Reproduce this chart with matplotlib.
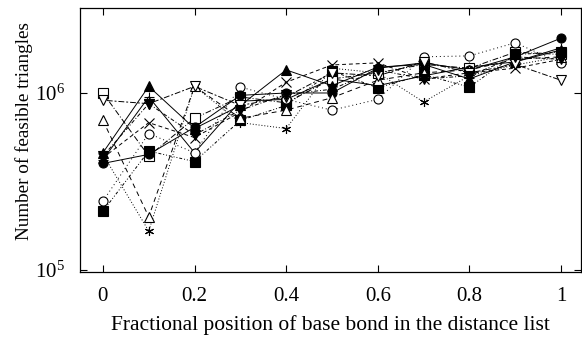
import numpy as np
import matplotlib
matplotlib.use("Agg")
import matplotlib.pyplot as plt

plt.rcParams['font.family'] = ['Liberation Serif', 'DejaVu Serif']
plt.rcParams['mathtext.fontset'] = 'custom'
plt.rcParams['mathtext.rm'] = 'Liberation Serif'
plt.rcParams['mathtext.it'] = 'Liberation Serif:italic'

# fractional position of base bond
frac = [0.0, 0.1, 0.2, 0.3, 0.4, 0.5, 0.6, 0.7, 0.8, 0.9, 1.0]

# feasible triangles (units of 1e6), one list per run
run_plus = [0.42, 0.95, 0.46, 0.90, 0.92, 1.20, 1.10, 1.25, 1.40, 1.50, 1.80]
run_cross = [0.43, 0.68, 0.56, 0.78, 1.15, 1.44, 1.48, 1.20, 1.30, 1.38, 1.55]
run_star = [0.45, 0.166, 1.09, 0.68, 0.63, 1.38, 1.30, 0.89, 1.25, 1.44, 1.60]
run_osq = [1.00, 0.44, 0.72, 0.95, 0.88, 1.20, 1.30, 1.45, 1.38, 1.70, 1.65]
run_fsq = [0.215, 0.47, 0.41, 0.70, 0.85, 1.33, 1.07, 1.27, 1.08, 1.65, 1.70]
run_ocirc = [0.245, 0.59, 0.46, 1.08, 0.92, 0.80, 0.92, 1.60, 1.62, 1.92, 1.48]
run_fcirc = [0.40, 0.45, 0.64, 0.97, 1.00, 1.00, 1.38, 1.48, 1.35, 1.60, 2.04]
run_otri = [0.70, 0.20, 1.09, 0.72, 0.80, 0.94, 1.18, 1.30, 1.35, 1.55, 1.60]
run_ftri = [0.46, 1.09, 0.63, 0.85, 1.35, 1.10, 1.40, 1.45, 1.20, 1.50, 1.75]
run_otrid = [0.91, 0.87, 1.09, 0.85, 0.95, 1.30, 1.25, 1.50, 1.30, 1.45, 1.18]
run_ftrid = [0.44, 0.87, 0.58, 0.80, 0.98, 1.05, 1.35, 1.20, 1.25, 1.60, 1.55]

runs = [run_plus, run_cross, run_star, run_osq, run_fsq, run_ocirc,
        run_fcirc, run_otri, run_ftri, run_otrid, run_ftrid]

# gnuplot-ish point types and dash types
markers = ['+', 'x', (6, 2, 0), 's', 's', 'o', 'o', '^', '^', 'v', 'v']
filled = [True, True, True, False, True, False, True, False, True, False, True]
dashes = ['-', (0, (4, 3)), (0, (1, 2)), (0, (6, 2, 1, 2)), (0, (3, 2, 1, 2, 1, 2)),
          (0, (1, 3)), '-', (0, (5, 4)), '-', (0, (2, 2, 6, 2)), (0, (4, 2, 1, 2))]

fig = plt.figure(figsize=(5.82, 3.40), dpi=100)
ax = fig.add_axes([0.1375, 0.2, 0.861, 0.7765])

for i, r in enumerate(runs):
    y = np.array(r) * 1e6
    ax.plot(frac, y, color='black', lw=0.7, linestyle=dashes[i],
            marker=markers[i], markersize=6.5, markeredgewidth=0.8,
            markerfacecolor='black' if filled[i] else 'white',
            markeredgecolor='black')

ax.set_yscale('log')
ax.set_xlim(-0.05, 1.044)
ax.set_ylim(0.975e5, 3.02e6)
ax.set_xticks([0, 0.2, 0.4, 0.6, 0.8, 1.0])
ax.set_xticklabels(['0', '0.2', '0.4', '0.6', '0.8', '1'])
ax.set_yticks([1e5, 1e6])
ax.set_yticklabels([r'$10^5$', r'$10^6$'])
ax.minorticks_off()
ax.tick_params(direction='in', length=5, width=0.8, top=True, right=True)
ax.tick_params(axis='x', labelsize=15, pad=11)
ax.tick_params(axis='y', labelsize=15, pad=11)
for s in ax.spines.values():
    s.set_linewidth(0.9)

ax.set_xlabel('Fractional position of base bond in the distance list', fontsize=15.5, labelpad=6)
ax.set_ylabel('Number of feasible triangles', fontsize=13.8)
ax.yaxis.set_label_coords(-0.094, 0.535)

fig.savefig('out.png', dpi=100)
